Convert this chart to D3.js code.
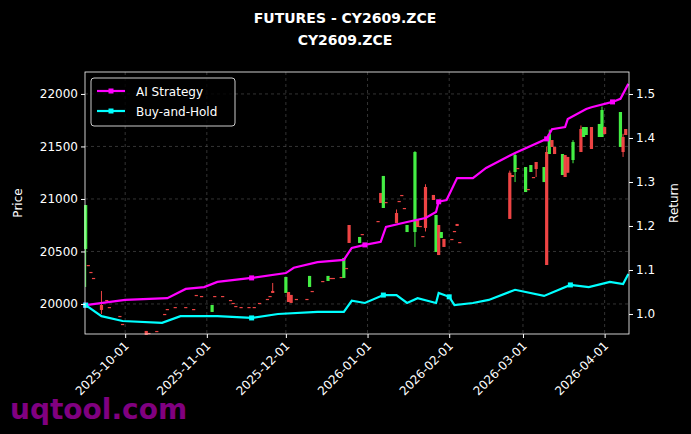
<!DOCTYPE html>
<html><head><meta charset="utf-8">
<script src="https://cdn.jsdelivr.net/npm/d3@7"></script>
<style>body{margin:0;background:#000}</style>
</head><body><svg id="c" width="691" height="434"></svg>
<script>
// candles: date, open, close, high, low
const candleDates = ["2025-09-16","2025-09-17","2025-09-18","2025-09-19","2025-09-22","2025-09-24","2025-09-25","2025-09-29","2025-09-30",
 "2025-10-09","2025-10-10","2025-10-13","2025-10-16","2025-10-17","2025-10-20","2025-10-24","2025-10-27","2025-10-28","2025-10-30",
 "2025-11-03","2025-11-04","2025-11-07","2025-11-10","2025-11-11","2025-11-12","2025-11-14","2025-11-17","2025-11-19","2025-11-21","2025-11-24","2025-11-25","2025-11-26",
 "2025-12-01","2025-12-02","2025-12-03","2025-12-05","2025-12-09","2025-12-10","2025-12-11","2025-12-15","2025-12-17","2025-12-18","2025-12-19","2025-12-22","2025-12-23","2025-12-24","2025-12-25","2025-12-29","2025-12-30",
 "2026-01-05","2026-01-06","2026-01-07","2026-01-08","2026-01-12","2026-01-13","2026-01-14","2026-01-15","2026-01-16","2026-01-19","2026-01-20","2026-01-21","2026-01-22","2026-01-23","2026-01-26","2026-01-27","2026-01-28","2026-01-29","2026-01-30",
 "2026-02-02","2026-02-03","2026-02-04","2026-02-05","2026-02-24","2026-02-25","2026-02-26","2026-02-27",
 "2026-03-02","2026-03-03","2026-03-04","2026-03-05","2026-03-06","2026-03-09","2026-03-10","2026-03-11","2026-03-12","2026-03-13","2026-03-16","2026-03-17","2026-03-18","2026-03-20","2026-03-23","2026-03-24","2026-03-25","2026-03-27","2026-03-30","2026-03-31",
 "2026-04-01","2026-04-07","2026-04-08","2026-04-09"];
const opens = [20524,20371,20305,20248,19990,20038,19971,19886,19810,
 19743,19724,19743,19905,19952,19971,19971,19952,20086,20076,
 19924,20076,20076,20038,20010,19981,19971,19971,19971,20010,20048,20076,20124,
 20105,20114,20086,20048,20048,20162,20124,20219,20219,20248,20248,20257,20248,20343,20752,20581,20666,
 20790,21057,20914,20971,20866,20981,21038,20914,20685,20685,20809,20743,20647,21114,21038,20495,20752,20628,20619,
 20619,20695,20762,20590,21250,21228,21257,21295,
 21066,21095,21257,21209,21352,21161,21447,21428,21561,21495,21228,21418,21400,21371,21666,21590,21609,21685,21590,21590,
 21685,21495,21590,21666];
const closes = [20942,20371,20305,20248,19943,20038,19971,19886,19810,
 19705,19724,19743,19905,19952,19971,19971,19952,20086,20076,
 19990,20076,20076,20038,20010,19981,19971,19971,19971,20010,20048,20076,20105,
 20257,20019,20010,20048,20048,20267,20124,20219,20267,20248,20248,20257,20438,20343,20581,20638,20666,
 20790,20962,21219,20971,20771,20981,21038,20914,20752,21447,20733,20743,20647,20724,20990,20847,20466,20685,20543,
 20619,20695,20743,20590,20810,21209,21418,21295,
 21304,21095,21323,21209,21285,21304,20371,21618,21495,21428,21428,21209,21250,21542,21447,21685,21685,21476,21714,21847,
 21618,21828,21447,21609];
const highs = [20942,20371,20305,20248,20124,20038,19971,19886,19810,
 19743,19724,19743,19905,19952,19971,19971,19952,20086,20076,
 19990,20076,20076,20038,20010,19981,19971,19971,19971,20010,20048,20076,20200,
 20257,20114,20086,20048,20048,20267,20124,20219,20267,20248,20248,20257,20438,20343,20752,20638,20666,
 20790,21057,21219,20971,20900,20981,21038,20914,20752,21455,20809,20743,20647,21140,21038,20847,20752,20685,20619,
 20619,20695,20762,20590,21270,21228,21430,21295,
 21304,21095,21323,21209,21352,21304,21500,21660,21561,21495,21428,21418,21400,21560,21700,21685,21685,21685,21714,21880,
 21685,21828,21620,21666];
const lows = [20162,20371,20305,20248,19905,20038,19971,19886,19810,
 19705,19724,19743,19905,19952,19971,19971,19952,20086,20076,
 19924,20076,20076,20038,20010,19981,19971,19971,19971,20010,20048,20076,20105,
 20105,20019,20010,20048,20048,20162,20124,20219,20219,20248,20248,20257,20248,20343,20581,20581,20666,
 20790,20962,20914,20971,20771,20981,21038,20914,20685,20543,20733,20743,20647,20690,20990,20495,20466,20628,20543,
 20619,20695,20743,20590,20810,21209,21161,21295,
 21066,21095,21257,21209,21209,21161,20371,21428,21495,21428,21228,21209,21250,21340,21447,21590,21609,21476,21590,21590,
 21618,21495,21400,21609];

// strategy returns
const aiDates = ["2025-09-16","2025-10-01","2025-10-17","2025-10-24","2025-10-31","2025-11-05","2025-11-18","2025-12-01","2025-12-04","2025-12-13","2025-12-23","2025-12-26","2025-12-31",
 "2026-01-06","2026-01-08","2026-01-16","2026-01-23","2026-01-27","2026-01-28","2026-01-31","2026-02-04","2026-02-10","2026-02-15","2026-02-26","2026-03-10","2026-03-12","2026-03-17","2026-03-18","2026-03-25","2026-03-27","2026-04-04","2026-04-07","2026-04-10"];
const aiReturn = [1.020,1.032,1.036,1.057,1.061,1.073,1.082,1.093,1.105,1.118,1.123,1.150,1.157,
 1.164,1.198,1.209,1.218,1.232,1.255,1.259,1.309,1.309,1.332,1.366,1.398,1.420,1.425,1.443,1.466,1.470,1.482,1.489,1.523];
const bhDates = ["2025-09-16","2025-09-22","2025-09-30","2025-10-15","2025-10-22","2025-11-05","2025-11-18","2025-11-28","2025-12-13","2025-12-23","2025-12-26","2025-12-31",
 "2026-01-07","2026-01-12","2026-01-16","2026-01-20","2026-01-27","2026-01-28","2026-02-01","2026-02-03","2026-02-10","2026-02-16","2026-02-26","2026-03-09","2026-03-19","2026-03-26","2026-04-03","2026-04-08","2026-04-10"];
const bhReturn = [1.020,0.995,0.984,0.980,0.995,0.995,0.991,1.000,1.005,1.005,1.030,1.025,
 1.043,1.043,1.025,1.036,1.025,1.048,1.039,1.020,1.025,1.032,1.055,1.041,1.066,1.061,1.073,1.068,1.091];

const priceTicks = [20000,20500,21000,21500,22000];
const returnTicks = [1.0,1.1,1.2,1.3,1.4,1.5];
const dateTicks = ["2025-10-01","2025-11-01","2025-12-01","2026-01-01","2026-02-01","2026-03-01","2026-04-01"];

const P = d3.timeParse("%Y-%m-%d");
const svg = d3.select("#c");
const L = 85, R = 629, T = 72, B = 334;
const font = "DejaVu Sans";

const x = d3.scaleTime().domain([new Date(2025,8,15,18), new Date(2026,3,10,6)]).range([L, R]);
const y = d3.scaleLinear().domain([19714, 22209]).range([B, T]);
const y2 = d3.scaleLinear().domain([0.9545, 1.55]).range([B, T]);

svg.append("rect").attr("width",691).attr("height",434).attr("fill","#000");

// grid
const g = svg.append("g").attr("stroke","#555").attr("stroke-dasharray","3,3").attr("stroke-width",0.6);
dateTicks.forEach(d => g.append("line").attr("x1",x(P(d))).attr("x2",x(P(d))).attr("y1",T).attr("y2",B));
priceTicks.forEach(v => g.append("line").attr("x1",L).attr("x2",R).attr("y1",y(v)).attr("y2",y(v)));

// candles
const candles = candleDates.map((d,i)=>({d:P(d),o:opens[i],c:closes[i],h:highs[i],l:lows[i]}));
const cg = svg.append("g");
candles.forEach(k => {
  const col = k.c > k.o ? "#44ee44" : "#ee4444";
  const cx = x(k.d);
  cg.append("line").attr("x1",cx).attr("x2",cx).attr("y1",y(k.h)).attr("y2",y(k.l)).attr("stroke",col).attr("stroke-width",1);
  const top = y(Math.max(k.o,k.c)), bot = y(Math.min(k.o,k.c));
  cg.append("rect").attr("x",cx-1.6).attr("width",3.2).attr("y",top).attr("height",Math.max(1.2,bot-top)).attr("fill",col);
});

// return lines
function drawLine(dates, vals, col){
  const pts = dates.map((d,i)=>[x(P(d)), y2(vals[i])]);
  svg.append("path").attr("d", d3.line()(pts)).attr("fill","none").attr("stroke",col).attr("stroke-width",2.2);
  svg.selectAll(null).data(pts.filter((p,i)=>i%6===0)).enter().append("rect")
    .attr("x",p=>p[0]-2.5).attr("y",p=>p[1]-2.5).attr("width",5).attr("height",5).attr("fill",col);
}
drawLine(aiDates, aiReturn, "#ff00ff");
drawLine(bhDates, bhReturn, "#00ffff");

svg.append("rect").attr("x",L).attr("y",T).attr("width",R-L).attr("height",B-T).attr("fill","none").attr("stroke","#fff").attr("stroke-width",0.8);

// axes
const ax = svg.append("g").attr("transform",`translate(0,${B})`)
  .call(d3.axisBottom(x).tickValues(dateTicks.map(P)).tickFormat(d3.timeFormat("%Y-%m-%d")).tickSize(4));
ax.selectAll("text").attr("transform","rotate(-45)").attr("text-anchor","end").attr("dx","-0.5em").attr("dy","0.4em");
const ay = svg.append("g").attr("transform",`translate(${L},0)`).call(d3.axisLeft(y).tickValues(priceTicks).tickFormat(d3.format("d")).tickSize(4));
const ay2 = svg.append("g").attr("transform",`translate(${R},0)`).call(d3.axisRight(y2).tickValues(returnTicks).tickFormat(d3.format(".1f")).tickSize(4));
[ax,ay,ay2].forEach(a=>{ a.select(".domain").remove(); a.selectAll("line").attr("stroke","#fff");
  a.selectAll("text").attr("fill","#fff").attr("font-family",font).attr("font-size",12); });

svg.append("text").attr("transform","translate(22,203) rotate(-90)").attr("text-anchor","middle").attr("fill","#fff").attr("font-family",font).attr("font-size",12).text("Price");
svg.append("text").attr("transform","translate(678,203) rotate(-90)").attr("text-anchor","middle").attr("fill","#fff").attr("font-family",font).attr("font-size",12).text("Return");

svg.append("text").attr("x",345).attr("y",23).attr("text-anchor","middle").attr("fill","#fff").attr("font-family",font).attr("font-weight","bold").attr("font-size",14).text("FUTURES - CY2609.ZCE");
svg.append("text").attr("x",345).attr("y",45).attr("text-anchor","middle").attr("fill","#fff").attr("font-family",font).attr("font-weight","bold").attr("font-size",14).text("CY2609.ZCE");

// legend
const lg = svg.append("g");
lg.append("rect").attr("x",91).attr("y",78).attr("width",144).attr("height",48).attr("rx",3).attr("fill","#000").attr("fill-opacity",0.8).attr("stroke","#ccc");
[["AI Strategy","#ff00ff"],["Buy-and-Hold","#00ffff"]].forEach((s,i)=>{
  const yy = 91 + i*20;
  lg.append("line").attr("x1",97).attr("x2",125).attr("y1",yy).attr("y2",yy).attr("stroke",s[1]).attr("stroke-width",2.2);
  lg.append("rect").attr("x",108.5).attr("y",yy-2.5).attr("width",5).attr("height",5).attr("fill",s[1]);
  lg.append("text").attr("x",136).attr("y",yy+4.5).attr("fill","#fff").attr("font-family",font).attr("font-size",12).text(s[0]);
});

svg.append("text").attr("x",10).attr("y",419).attr("fill","#800080").attr("font-family",font).attr("font-weight","bold").attr("font-size",28).text("uqtool.com");
</script></body></html>
